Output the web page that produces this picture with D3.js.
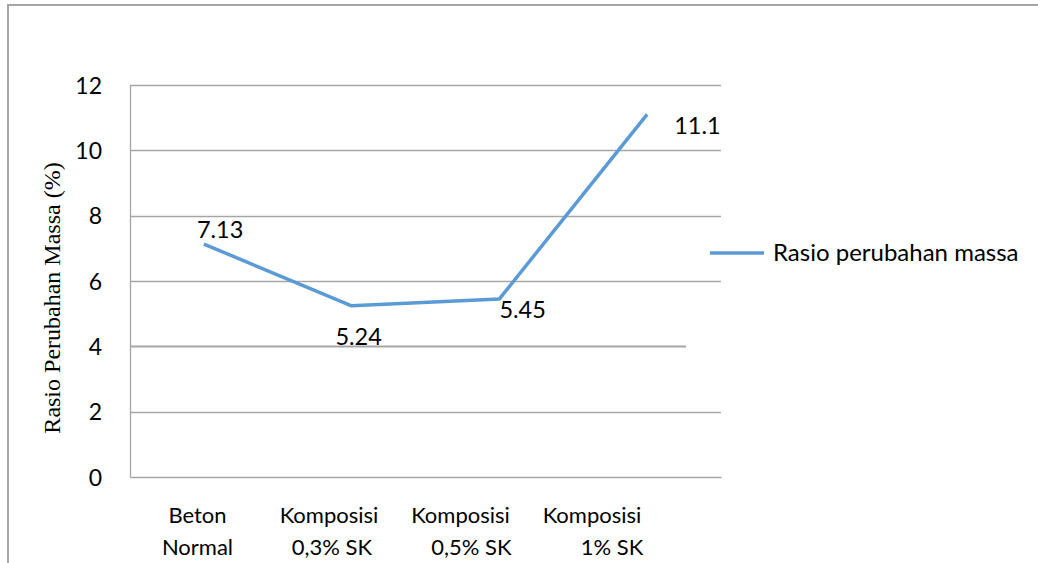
<!DOCTYPE html>
<html>
<head>
<meta charset="utf-8">
<script src="https://cdn.jsdelivr.net/npm/d3@7"></script>
<style>
  html, body { margin: 0; padding: 0; background: #fff; }
  svg { display: block; }
  .ytitle { font-family: "Liberation Serif", "Times New Roman", Times, serif; }
</style>
</head>
<body>
<svg id="chart" width="1038" height="563"></svg>
<script>
// Category labels (two lines each) and measured values
const categories = ["Beton Normal", "Komposisi 0,3% SK", "Komposisi 0,5% SK", "Komposisi 1% SK"];
const labelLines = [["Beton", "Normal"], ["Komposisi", "0,3% SK"], ["Komposisi", "0,5% SK"], ["Komposisi", "1% SK"]];
const values = [7.13, 5.24, 5.45, 11.1];
const valueLabels = ["7.13", "5.24", "5.45", "11.1"];
const yTicks = [0, 2, 4, 6, 8, 10, 12];
const seriesName = "Rasio perubahan massa";
const yTitle = "Rasio Perubahan Massa (%)";

const svg = d3.select("#chart");
const plot = { left: 130, right: 721, top: 85, bottom: 477 };
const sansFont = "Lato, 'Open Sans', sans-serif";
const gridColor = "#a6a6a6";
const lineColor = "#5b9bd5";

// Outer chart frame (top and left edges)
svg.append("path")
  .attr("d", "M8,563 L8,5 L1038,5")
  .attr("fill", "none").attr("stroke", "#a6a6a6").attr("stroke-width", 2);

const x = d3.scaleBand().domain(categories).range([plot.left, plot.right]);
const y = d3.scaleLinear().domain([0, 12]).range([plot.bottom, plot.top]);
// Category text sits a little left of the band centres
const xLabel = d3.scalePoint().domain(categories).range([197.5, 592]);

// Horizontal gridlines
const gridEnd = v => v === 4 ? 686 : plot.right;
svg.append("g").selectAll("line").data(yTicks.filter(v => v > 0)).join("line")
  .attr("x1", plot.left).attr("x2", v => gridEnd(v))
  .attr("y1", v => Math.round(y(v)) + 0.5).attr("y2", v => Math.round(y(v)) + 0.5)
  .attr("stroke", gridColor).attr("stroke-width", v => v === 4 ? 2 : 1.3);

// Y axis with tick labels
const yAxis = d3.axisLeft(y).tickValues(yTicks).tickSize(0).tickPadding(28);
const gy = svg.append("g").attr("transform", `translate(${plot.left},0)`).call(yAxis);
gy.select(".domain").attr("stroke", gridColor).attr("stroke-width", 1.3);
gy.selectAll("text").attr("font-family", sansFont).attr("font-size", 23).attr("fill", "#000")
  .attr("dy", "0.35em");

// X axis baseline
const xAxis = d3.axisBottom(x).tickSize(0).tickFormat("");
const gx = svg.append("g").attr("transform", `translate(0,${plot.bottom})`).call(xAxis);
gx.select(".domain").attr("stroke", gridColor).attr("stroke-width", 1.6);

// Two-line category labels
const line2Shift = [0, 3, 11, 20];
const cat = svg.append("g").selectAll("text").data(categories).join("text")
  .attr("font-family", sansFont).attr("font-size", 22).attr("fill", "#000")
  .attr("text-anchor", "middle");
cat.append("tspan").attr("x", d => xLabel(d)).attr("y", 523)
  .text((d, i) => labelLines[i][0]);
cat.append("tspan").attr("x", (d, i) => xLabel(d) + line2Shift[i]).attr("y", 555)
  .text((d, i) => labelLines[i][1]);

// Y axis title (serif face)
svg.append("text")
  .attr("class", "ytitle")
  .attr("transform", "translate(60,298) rotate(-90)")
  .attr("text-anchor", "middle")
  .style("font-size", "24px").attr("fill", "#000")
  .text(yTitle);

// Data line
const cx = d => x(d) + x.bandwidth() / 2;
const line = d3.line().x((d, i) => cx(categories[i])).y(d => y(d));
svg.append("path").datum(values)
  .attr("d", line).attr("fill", "none")
  .attr("stroke", lineColor).attr("stroke-width", 3.5)
  .attr("stroke-linejoin", "round").attr("stroke-linecap", "butt");

// Value labels around the points
const labelOffset = [[-7, -14, "start"], [7, 31, "middle"], [0, 11, "start"], [27, 11, "start"]];
svg.append("g").selectAll("text").data(values).join("text")
  .attr("x", (d, i) => cx(categories[i]) + labelOffset[i][0])
  .attr("y", (d, i) => y(d) + labelOffset[i][1])
  .attr("dy", "0.35em")
  .attr("text-anchor", (d, i) => labelOffset[i][2])
  .attr("font-family", sansFont).attr("font-size", 23.5).attr("fill", "#000")
  .text((d, i) => valueLabels[i]);

// Legend
const legend = svg.append("g").attr("transform", "translate(710,253)");
legend.append("line").attr("x1", 0).attr("x2", 54).attr("y1", 0).attr("y2", 0)
  .attr("stroke", lineColor).attr("stroke-width", 3.5);
legend.append("text").attr("x", 63).attr("y", 0).attr("dy", "0.35em")
  .attr("font-family", sansFont).attr("font-size", 24).attr("fill", "#000")
  .text(seriesName);
</script>
</body>
</html>
